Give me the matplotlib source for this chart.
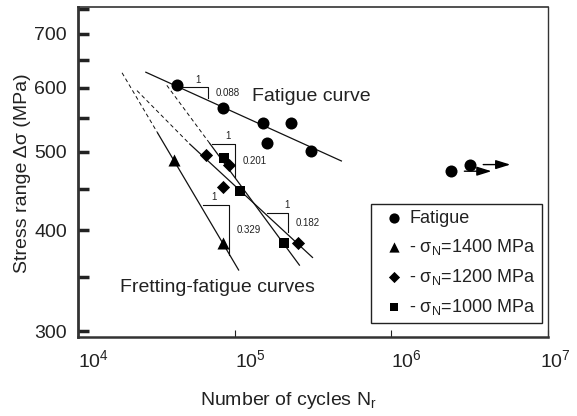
import numpy as np
import matplotlib
matplotlib.use("Agg")
import matplotlib.pyplot as plt
from matplotlib.ticker import FixedLocator, FixedFormatter, NullLocator
from matplotlib.transforms import offset_copy, ScaledTranslation

plt.rcParams['font.family'] = ['Liberation Sans', 'DejaVu Sans']
plt.rcParams['mathtext.default'] = 'regular'

# dados (N ciclos, tensão MPa)
fat_N = [42700, 84000, 151000, 160000, 230000, 305000]
fat_S = [605, 567, 542, 512, 542, 501]
runout_N = [2.41e6, 3.18e6]
runout_S = [473, 482]

s1400_N = [40800, 84000]
s1400_S = [488, 385]
s1200_N = [65300, 91600, 84000, 252000]
s1200_S = [495, 482, 452, 385]
s1000_N = [85000, 108000, 205000]
s1000_S = [491, 447, 386]

# retas de ajuste: [inicio tracejado, inicio continuo, fim]
fat_line_N = [27100, 480000]
fat_line_S = [627, 487]
l1400_N = [19100, 32300, 106000]
l1400_S = [626, 527, 357]
l1200_N = [23800, 51700, 314000]
l1200_S = [595, 511, 370]
l1000_N = [36900, 69300, 259000]
l1000_S = [604, 512, 362]

# triangulos de inclinação: N esquerdo, N direito, S topo, S base
tri_N1 = [46650, 71400, 62560, 159900]
tri_N2 = [67300, 100000, 91600, 217600]
tri_S1 = [600.4, 510.7, 429.3, 419.6]
tri_S2 = [581.9, 464.9, 372.4, 397.5]
tri_txt = ['0.088', '0.201', '0.329', '0.182']
tri_one = [0.6, 0.7, 0.45, 0.95]

yticks = [300, 350, 400, 450, 500, 550, 600, 650, 700, 750]
ylabels = ['300', '', '400', '', '500', '', '600', '', '700', '']

fig = plt.figure(figsize=(5.77, 4.16), dpi=100)
ax = fig.add_axes([0.1352, 0.1899, 0.8145, 0.7933])
ax.set_xscale('log')
ax.set_yscale('log')
ax.set_xlim(1e4, 1e7)
ax.set_ylim(295, 755)

lc = '#111111'
ax.plot(fat_line_N, fat_line_S, color=lc, lw=0.9)
for LN, LS in [(l1400_N, l1400_S), (l1200_N, l1200_S), (l1000_N, l1000_S)]:
    ax.plot(LN[:2], LS[:2], color=lc, lw=0.7, ls=(0, (4, 3)))
    ax.plot(LN[1:], LS[1:], color=lc, lw=0.9)

for i in range(4):
    ax.plot([tri_N1[i], tri_N2[i], tri_N2[i]], [tri_S1[i], tri_S1[i], tri_S2[i]],
            color=lc, lw=0.8)
    xo = tri_N1[i] * (tri_N2[i] / tri_N1[i]) ** tri_one[i]
    ax.annotate('1', (xo, tri_S1[i]), xytext=(0, 2), textcoords='offset points',
                ha='center', va='bottom', fontsize=7, color='#222222')
    ym = np.sqrt(tri_S1[i] * tri_S2[i])
    ax.annotate(tri_txt[i], (tri_N2[i], ym), xytext=(6, 0), textcoords='offset points',
                ha='left', va='center', fontsize=7, color='#222222')

ax.scatter(fat_N + runout_N, fat_S + runout_S, marker='o', s=75, color='black', zorder=5,
           linewidths=0, label='Fatigue')
ax.scatter(s1400_N, s1400_S, marker='^', s=75, color='black', zorder=5, linewidths=0,
           label='- σ$_N$=1400 MPa')
ax.scatter(s1200_N, s1200_S, marker='D', s=45, color='black', zorder=5, linewidths=0,
           label='- σ$_N$=1200 MPa')
ax.scatter(s1000_N, s1000_S, marker='s', s=48, color='black', zorder=5, linewidths=0,
           label='- σ$_N$=1000 MPa')

# setas de run-out
for n, s in zip(runout_N, runout_S):
    tr = offset_copy(ax.transData, fig=fig, x=31, y=0, units='points')
    ax.annotate('', xy=(n, s), xycoords=tr, xytext=(-23.5, 0), textcoords='offset points',
                arrowprops=dict(arrowstyle='-|>,head_length=0.8,head_width=0.25',
                                mutation_scale=11, color='black', lw=1))

ax.text(0.370, 0.730, 'Fatigue curve', transform=ax.transAxes, fontsize=14,
        va='center', ha='left', color='#222222')
ax.text(0.089, 0.1515, 'Fretting-fatigue curves', transform=ax.transAxes, fontsize=14,
        va='center', ha='left', color='#222222')

leg = ax.legend(loc='lower right', bbox_to_anchor=(0.987, 0.042), fontsize=13,
                frameon=True, fancybox=False, edgecolor='#222222', framealpha=1,
                handlelength=1.89, handletextpad=-0.11, labelspacing=0.56,
                borderpad=0.33, borderaxespad=0, markerscale=0.85)
leg.get_frame().set_linewidth(1.0)
for t in leg.get_texts():
    t.set_color('#222222')

ax.yaxis.set_major_locator(FixedLocator(yticks))
ax.yaxis.set_major_formatter(FixedFormatter(ylabels))
ax.yaxis.set_minor_locator(NullLocator())
ax.xaxis.set_minor_locator(NullLocator())
ax.set_xticks([1e4, 1e5, 1e6, 1e7])
ax.tick_params(axis='y', direction='in', length=8, width=2.5, pad=8,
               labelsize=14, labelcolor='#222222', color='#222222')
ax.tick_params(axis='x', direction='in', length=5, width=0.8, pad=9,
               labelsize=14, labelcolor='#222222', color='#222222')
xlabs = ax.get_xticklabels()
for lab in xlabs:
    lab.set_ha('left')
xlabs[-1].set_transform(xlabs[-1].get_transform() +
                        ScaledTranslation(-6 / 72, 0, fig.dpi_scale_trans))

ax.spines['left'].set_linewidth(2.0)
ax.spines['bottom'].set_linewidth(1.8)
ax.spines['top'].set_linewidth(1.2)
ax.spines['right'].set_linewidth(1.0)
for sp in ax.spines.values():
    sp.set_color('#333333')

ax.set_ylabel('Stress range Δσ (MPa)', fontsize=14, color='#222222')
ax.yaxis.set_label_coords(-0.10, 0.495)
ax.set_xlabel('Number of cycles N$_r$', fontsize=14, color='#222222')
ax.xaxis.set_label_coords(0.447, -0.16)

fig.savefig('out.png', dpi=100)
